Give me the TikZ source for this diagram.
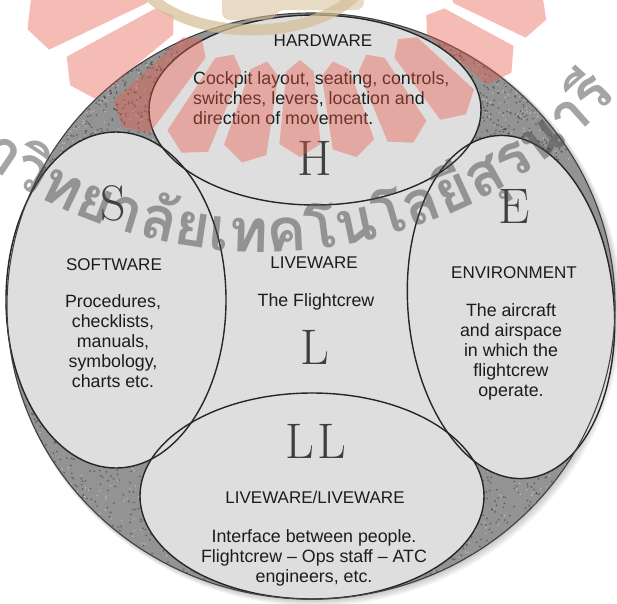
\documentclass[tikz,border=0pt]{standalone}
\usepackage{fontspec}
\setmainfont{Liberation Sans}
\newfontfamily\bigletters{Latin Modern Roman}
\newfontfamily\thaifont[Script=Thai]{Loma}
\usetikzlibrary{decorations.text}
\definecolor{panel}{HTML}{DEDEDE}
\definecolor{gapgray}{HTML}{939393}
\definecolor{ink}{HTML}{1C1C1C}
\definecolor{rayred}{RGB}{232,88,70}
\definecolor{ringtan}{RGB}{212,190,150}
\definecolor{wmgray}{HTML}{4A4A4A}
\begin{document}
\begin{tikzpicture}[x=1pt,y=-1pt,
  rim/.style={draw=black!85, line width=1.4pt},
  heading/.style={font=\fontsize{17}{20}\selectfont, text=ink, anchor=base, inner sep=0pt},
  body/.style={font=\fontsize{17.8}{19.8}\selectfont, text=ink, align=center, anchor=base, inner sep=0pt},
  initial/.style={font=\bigletters\fontsize{50}{50}\selectfont, text=black!75, anchor=base, inner sep=0pt},
]
\useasboundingbox (0,0) rectangle (617,603);
\fill[white] (0,0) rectangle (617,603);

% soft drop shadow of the disc
\foreach \k in {1,...,5}
  \fill[black, opacity=0.045] (311+0.8*\k,306+0.8*\k) ellipse [x radius=304+0.6*\k, y radius=293+0.6*\k];

% the disc and its stippled gaps
\fill[gapgray] (311,306) ellipse [x radius=304, y radius=293];
\begin{scope}
  \clip (311,306) ellipse [x radius=304, y radius=293];
  \pgfmathsetseed{11}
  \foreach \bx/\by/\bw/\bh in {40/40/150/135, 425/40/170/120, 15/395/205/190, 420/420/195/175} {
    \foreach \i in {1,...,650} {
      \pgfmathsetmacro\px{\bx+rnd*\bw}
      \pgfmathsetmacro\py{\by+rnd*\bh}
      \fill[black, opacity=0.33] (\px,\py) circle [radius=1.0];
    }
    \foreach \i in {1,...,300} {
      \pgfmathsetmacro\px{\bx+rnd*\bw}
      \pgfmathsetmacro\py{\by+rnd*\bh}
      \fill[white, opacity=0.35] (\px,\py) circle [radius=0.9];
    }
  }
\end{scope}

% light centre and the four ellipses
\fill[panel] (173,158) -- (455,160) -- (462,448) -- (186,428) -- cycle;
\fill[panel] (315,110) ellipse [x radius=166, y radius=95];
\fill[panel] (116,300) ellipse [x radius=110, y radius=168];
\fill[panel, rotate around={5:(511,307)}] (511,307) ellipse [x radius=103, y radius=172];
\fill[panel] (312,496) ellipse [x radius=172, y radius=103];

\draw[rim] (315,110) ellipse [x radius=166, y radius=95];
\draw[rim] (116,300) ellipse [x radius=110, y radius=168];
\draw[rim, rotate around={5:(511,307)}] (511,307) ellipse [x radius=103, y radius=172];
\draw[rim] (312,496) ellipse [x radius=172, y radius=103];
\draw[black!75, line width=1.1pt] (311,306) ellipse [x radius=304, y radius=293];

% texts (a multi-line node sits on the baseline of its last line)
\node[heading] (hwhead) at (323,46) {HARDWARE};
\node[body, align=left, anchor=base west] (hwbody) at (193,124)
  {Cockpit layout, seating, controls,\\switches, levers, location and\\direction of movement.};
\node[initial] (hletter) at (315,175) {H};

\node[initial] (sletter) at (113,220) {S};
\node[heading] (swhead) at (114,270) {SOFTWARE};
\node[body] (swbody) at (113,387) {Procedures,\\checklists,\\manuals,\\symbology,\\charts etc.};

\node[initial] (eletter) at (514,223) {E};
\node[heading] (envhead) at (514,278) {ENVIRONMENT};
\node[body] (envbody) at (511,396) {The aircraft\\and airspace\\in which the\\flightcrew\\operate.};

\node[heading] (lhead) at (314,268) {LIVEWARE};
\node[body] (lbody) at (316,306) {The Flightcrew};
\node[initial] (lletter) at (315,364) {L};

\node[initial] (llletter) at (316,458) {L\kern3pt L};
\node[heading] (llhead) at (315,503) {LIVEWARE/LIVEWARE};
\node[body] (llbody) at (314,582) {Interface between people.\\Flightcrew -- Ops staff -- ATC\\engineers, etc.};

% university seal watermark: rays and ring
\begin{scope}[shift={(300,-70)}, opacity=0.4]
  \foreach \t in {20,34,...,160} {
    \pgfmathsetmacro\ra{130+0.4*abs(\t-90)}
    \pgfmathsetmacro\rb{\t>90 ? 215+0.9*abs(\t-90) : 215+0.5*abs(\t-90)}
    \fill[rayred] (\t:\ra) -- (\t-5.5:\ra+12) -- (\t-5.5:\rb) -- (\t:\rb+12)
      -- (\t+5.5:\rb) -- (\t+5.5:\ra+12) -- cycle;
  }
\end{scope}
\draw[ringtan, line width=11pt, opacity=0.7] (252,-40) ellipse [x radius=120, y radius=70];
\fill[ringtan, opacity=0.55, rounded corners=8pt] (222,-40) -- (222,20) -- (276,20) -- (276,10) -- (364,10) -- (364,-40) -- cycle;

% university name watermark on an arc
\begin{scope}[opacity=0.5]
  \path[decorate, decoration={text along path, text align=left,
    text={|\thaifont\bfseries\fontsize{60}{60}\selectfont\color{wmgray}|มหาวิทยาลัยเทคโนโลยีสุรนารี}}]
    (262,-228) ++(135.5:480) arc [start angle=135.5, end angle=25, radius=480];
\end{scope}
\end{tikzpicture}
\end{document}
